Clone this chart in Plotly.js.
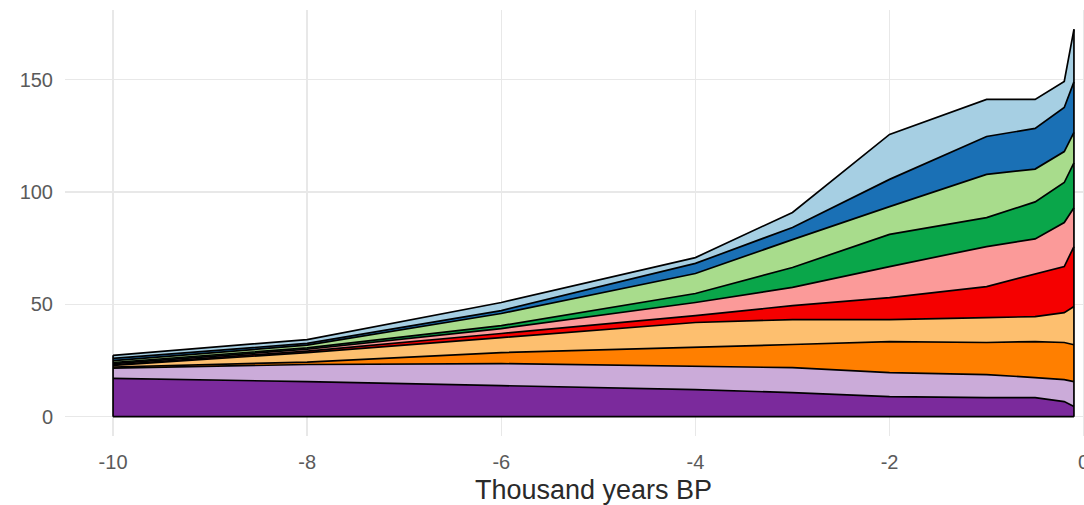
<!DOCTYPE html>
<html>
<head>
<meta charset="utf-8">
<script src="https://cdn.plot.ly/plotly-3.0.1.min.js"></script>
<style>
  html, body { margin: 0; padding: 0; overflow: hidden; background: #fff; }
  #chart { width: 1130px; height: 505px; }
</style>
</head>
<body>
<div id="chart"></div>
<script>
// Time points (thousand years BP)
const years = [-10, -8, -6, -4, -3, -2, -1, -0.5, -0.2, -0.1];

// Layer values, bottom to top (stacked)
const layer1  = [17.0, 15.6, 13.8, 12.0, 10.7,  8.9,  8.5,  8.5,  6.7,  4.5];
const layer2  = [ 4.6,  7.6,  9.8, 10.3, 11.1, 10.7, 10.2,  8.9,  9.8, 11.1];
const layer3  = [ 0.5,  1.1,  4.9,  8.4, 10.3, 13.8, 14.3, 16.0, 16.5, 16.4];
const layer4  = [ 0.7,  4.2,  6.7, 11.2, 11.1,  9.8, 11.1, 11.1, 13.3, 17.0];
const layer5  = [ 0.3,  0.7,  1.8,  3.1,  6.2,  9.8, 13.8, 19.0, 20.5, 26.7];
const layer6  = [ 0.5,  0.8,  2.2,  5.8,  8.1, 13.8, 17.8, 15.6, 19.6, 17.3];
const layer7  = [ 0.5,  0.6,  1.3,  4.0,  8.9, 14.3, 12.9, 16.5, 17.8, 20.0];
const layer8  = [ 0.8,  1.2,  5.4,  8.9, 12.4, 12.4, 19.2, 14.6, 13.8, 13.5];
const layer9  = [ 1.0,  0.8,  1.3,  4.5,  5.4, 12.1, 16.9, 18.1, 19.6, 22.5];
const layer10 = [ 1.4,  1.7,  3.6,  2.6,  6.7, 20.0, 16.5, 12.9, 11.6, 23.4];

const layers = [layer1, layer2, layer3, layer4, layer5, layer6, layer7, layer8, layer9, layer10];
const colors = ["#7B2A9C", "#CBABD9", "#FF7F00", "#FDBF6F", "#F50000",
                "#FB9A99", "#0AA64A", "#A8DC8C", "#1A70B5", "#A6CFE3"];

const yTicks = [0, 50, 100, 150];
const xTicks = [-10, -8, -6, -4, -2, 0];

const traces = layers.map((vals, i) => ({
  type: "scatter",
  mode: "lines",
  x: years,
  y: vals,
  stackgroup: "one",
  fillcolor: colors[i],
  line: { color: "#000", width: 1.7, shape: "linear" },
  hoverinfo: "skip",
  showlegend: false
}));

// polygon outline edges (left, right, bottom) from the data
const totals = years.map((_, j) => layers.reduce((s, l) => s + l[j], 0));
const n = years.length - 1;
traces.push({
  type: "scatter",
  mode: "lines",
  x: [years[0], years[0], null, years[n], years[n], null, years[0], years[n]],
  y: [0, totals[0], null, 0, totals[n], null, 0, 0],
  line: { color: "#000", width: 1.7 },
  hoverinfo: "skip",
  showlegend: false
});

const layout = {
  width: 1130,
  height: 505,
  margin: { l: 65, r: 8, t: 10, b: 69 },
  paper_bgcolor: "#fff",
  plot_bgcolor: "#fff",
  font: { family: "Liberation Sans, Arial, sans-serif" },
  xaxis: {
    range: [-10.495, 0.395],
    tickvals: xTicks,
    ticktext: xTicks.map(String),
    showgrid: true,
    gridcolor: "#E8E8E8",
    gridwidth: 1.4,
    zeroline: false,
    showline: false,
    ticks: "outside",
    ticklen: 8,
    tickcolor: "rgba(0,0,0,0)",
    tickfont: { size: 20, color: "#5a5a5a" },
    automargin: false,
    title: { text: "Thousand years BP", font: { size: 27, color: "#2a2a2a" }, standoff: 10 }
  },
  yaxis: {
    range: [-8.62, 181.0],
    tickvals: yTicks,
    ticktext: yTicks.map(String),
    showgrid: true,
    gridcolor: "#E8E8E8",
    gridwidth: 1.4,
    zeroline: false,
    showline: false,
    ticks: "outside",
    ticklen: 7,
    tickcolor: "rgba(0,0,0,0)",
    tickfont: { size: 20, color: "#5a5a5a" },
    automargin: false
  },
  showlegend: false
};

Plotly.newPlot("chart", traces, layout, { displayModeBar: false, staticPlot: true });
</script>
</body>
</html>
